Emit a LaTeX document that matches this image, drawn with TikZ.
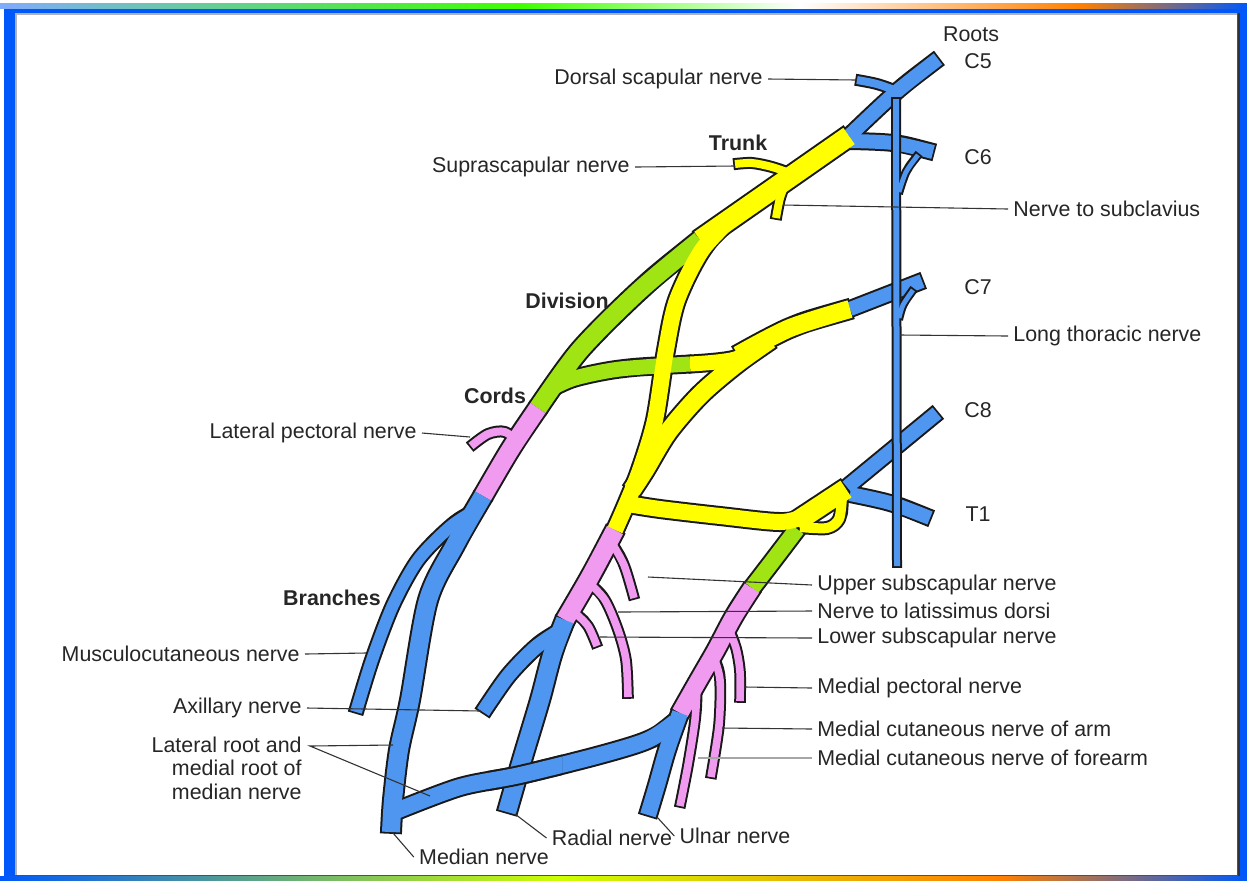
\documentclass[tikz,border=0pt]{standalone}
\usepackage{fontspec}
\setmainfont{Liberation Sans}

\definecolor{nerveblue}{RGB}{79,150,240}
\definecolor{trunkyellow}{RGB}{255,255,0}
\definecolor{divgreen}{RGB}{160,228,20}
\definecolor{cordpink}{RGB}{240,155,240}
\definecolor{frameblue}{RGB}{0,88,250}

\tikzset{
  lbl/.style={font=\fontsize{10.7}{11.8}\selectfont, text=black!85, inner sep=2.5pt},
  hd/.style={lbl, font=\fontsize{10.7}{11.8}\selectfont\bfseries},
  lead/.style={draw=black!80, line width=0.55pt},
  outlinepass/.style={line join=round,
    nv/.style={line width=##1+2pt, draw=black!90, shorten <=-0.9pt, shorten >=-0.9pt},
    roots/.style={}, trunks/.style={}, divs/.style={}, cords/.style={}, branches/.style={}},
  fillpass/.style={line join=round,
    nv/.style={line width=##1},
    roots/.style={draw=nerveblue}, trunks/.style={draw=trunkyellow},
    divs/.style={draw=divgreen}, cords/.style={draw=cordpink}, branches/.style={draw=nerveblue}},
}

\newcommand\medialroot{plot[smooth] coordinates {(675,722) (648,740) (600,755) (520,775) (460,787) (396,811)}}

% every tube is drawn twice: dark outline first, colour on top
\newcommand\plexus{%
  % roots
  \draw[nv=7pt,roots] plot[smooth] coordinates {(938,59) (895,93) (849,136)};
  \draw[nv=4pt,roots] plot[smooth] coordinates {(897,91) (877,84) (857,80)};
  \draw[nv=7pt,roots] plot[smooth] coordinates {(933,152) (893,143) (850,141)};
  \draw[nv=7pt,roots] (922,281) -- (850,309);
  \draw[nv=7pt,roots] (937,413) -- (847,487);
  \draw[nv=7pt,roots] plot[smooth] coordinates {(930,518) (890,503) (850,494)};
  % divisions
  \draw[nv=9pt,divs] plot[smooth] coordinates {(700,240) (640,290) (580,350) (538,408)};
  \draw[nv=7.5pt,divs] plot[smooth] coordinates {(690,364) (620,369) (575,378) (552,388)};
  \draw[nv=8pt,divs] plot[smooth] coordinates {(797,529) (775,558) (752,588)};
  % trunks
  \draw[nv=10pt,trunks] (849,136) -- (700,240);
  \draw[nv=4pt,trunks] plot[smooth] coordinates {(795,175) (772,167) (752,163) (735,164)};
  \draw[nv=4pt,trunks] plot[smooth] coordinates {(787,180) (780,198) (776,218)};
  \draw[nv=8pt,trunks] plot[smooth] coordinates {(735,215) (702,250) (677,300) (666,350) (655,420) (640,470) (626,505) (615,530)};
  \draw[nv=9pt,trunks] plot[smooth] coordinates {(850,309) (790,328) (738,355)};
  \draw[nv=7.5pt,trunks] plot[smooth] coordinates {(770,340) (735,359) (690,364)};
  \draw[nv=9pt,trunks] plot[smooth] coordinates {(770,340) (735,365) (700,395) (668,432) (645,470) (632,490)};
  \draw[nv=10pt,trunks] (846,489) -- (796,522);
  \draw[nv=8pt,trunks] plot[smooth] coordinates {(805,516) (780,522) (720,516) (660,509) (628,504)};
  \draw[nv=5pt,trunks] plot[smooth] coordinates {(842,497) (839,519) (827,528) (800,527)};
  % cords
  \draw[nv=9pt,cords] plot[smooth] coordinates {(538,408) (510,450) (483,496)};
  \draw[nv=4pt,cords] plot[smooth] coordinates {(522,445) (505,432) (488,434) (471,446)};
  \draw[nv=9pt,cords] plot[smooth] coordinates {(615,530) (590,577) (565,620)};
  \draw[nv=3.8pt,cords] plot[smooth] coordinates {(610,540) (624,565) (634,598)};
  \draw[nv=3.8pt,cords] plot[smooth] coordinates {(588,582) (605,600) (618,630) (626,660) (628,697)};
  \draw[nv=3.8pt,cords] plot[smooth] coordinates {(574,612) (588,626) (597,646)};
  \draw[nv=8.5pt,cords] plot[smooth] coordinates {(752,588) (733,618) (716,650) (697,683) (680,713)};
  \draw[nv=3.8pt,cords] plot[smooth] coordinates {(727,625) (736,648) (740,672) (740,701)};
  \draw[nv=3.8pt,cords] plot[smooth] coordinates {(713,655) (720,680) (719,725) (711,777)};
  \draw[nv=3.8pt,cords] plot[smooth] coordinates {(697,685) (695,720) (688,765) (680,806)};
  % terminal branches
  \draw[nv=9pt,branches] plot[smooth] coordinates {(483,496) (455,545) (428,600) (410,700) (399,750) (393,800) (391,832)};
  \draw[nv=6pt,branches] plot[smooth] coordinates {(476,510) (450,527) (418,560) (393,605) (372,660) (356,712)};
  \draw[nv=9pt,branches] plot[smooth] coordinates {(565,620) (552,655) (540,700) (522,760) (507,812)};
  \draw[nv=7pt,branches] plot[smooth] coordinates {(558,632) (535,648) (508,676) (483,712)};
  \draw[nv=8pt,branches] plot[smooth] coordinates {(680,713) (667,750) (657,785) (648,815)};
  \draw[nv=8pt,branches] \medialroot;
}

\newcommand\thoracic{%
  \draw[nv=3pt,roots] (896,99) -- (897,566);
  \draw[nv=2.4pt,roots] plot[smooth] coordinates {(918,155) (906,172) (899,192)};
  \draw[nv=2.4pt,roots] plot[smooth] coordinates {(913,290) (903,305) (899,318)};
}

\begin{document}
\begin{tikzpicture}[x=0.5pt,y=-0.5pt]
  \useasboundingbox (0,0) rectangle (1247,880);

  % window frame
  \fill[white] (0,0) rectangle (1247,880);
  \fill[frameblue] (4,4) rectangle (1247,880);
  \shade[left color=frameblue!50, right color=green!75!yellow] (0,3) rectangle (520,8);
  \shade[left color=green!75!yellow, right color=white] (520,3) rectangle (800,8);
  \shade[left color=white, right color=orange] (800,3) rectangle (1080,8);
  \shade[left color=orange, right color=frameblue] (1080,3) rectangle (1247,8);
  \shade[left color=frameblue, right color=yellow!80!green] (0,876) rectangle (560,880);
  \shade[left color=yellow!80!green, right color=orange] (560,876) rectangle (1000,880);
  \shade[left color=orange, right color=frameblue] (1000,876) rectangle (1247,880);
  \fill[white] (15,13) rectangle (1237,875);
  \draw[black!30, line width=1pt] (16,875) -- (16,14) -- (1237,14);
  \draw[black!80, line width=1.2pt] (1239,13) -- (1239,876);

  % the plexus
  \begin{scope}[outlinepass] \plexus \end{scope}
  \begin{scope}[fillpass] \plexus \end{scope}
  % medial root passes over the radial nerve
  \begin{scope}
    \clip (488,740) rectangle (562,808);
    \draw[line width=10pt, black!90] \medialroot;
    \draw[line width=8pt, nerveblue] \medialroot;
  \end{scope}
  \begin{scope}[outlinepass] \thoracic \end{scope}
  \begin{scope}[fillpass] \thoracic \end{scope}

  % ends of the leader lines
  \coordinate (dsend) at (857,80);
  \coordinate (ssend) at (735,166);
  \coordinate (sclend) at (783,205);
  \coordinate (ltend) at (900,335);
  \coordinate (lpend) at (470,437);
  \coordinate (mcend) at (366,653);
  \coordinate (axend) at (481,711);
  \coordinate (latroot) at (393,745);
  \coordinate (fork) at (310,746);
  \coordinate (medroot) at (430,796);
  \coordinate (medianend) at (393,833);
  \coordinate (radialend) at (515,814);
  \coordinate (ulnarend) at (657,817);
  \coordinate (usubend) at (648,577);
  \coordinate (tdend) at (618,612);
  \coordinate (lsubend) at (600,637);
  \coordinate (mpend) at (745,687);
  \coordinate (armend) at (722,728);
  \coordinate (foreend) at (698,758);

  % level names
  \node[lbl] (roots) at (971,34) {Roots};
  \node[lbl] (c5) at (978,61) {C5};
  \node[lbl] (c6) at (978,157) {C6};
  \node[lbl] (c7) at (978,287) {C7};
  \node[lbl] (c8) at (978,410) {C8};
  \node[lbl] (t1) at (978,514) {T1};
  \node[hd] (trunk) at (738,143) {Trunk};
  \node[hd] (division) at (567,301) {Division};
  \node[hd] (cords) at (495,396) {Cords};
  \node[hd] (branches) at (332,598) {Branches};

  % nerve names
  \node[lbl, anchor=east] (ds) at (768,79) {Dorsal scapular nerve};
  \node[lbl, anchor=east] (ss) at (635,167) {Suprascapular nerve};
  \node[lbl, anchor=west] (scl) at (1008,209) {Nerve to subclavius};
  \node[lbl, anchor=west] (lt) at (1008,336) {Long thoracic nerve};
  \node[lbl, anchor=east] (lp) at (422,433) {Lateral pectoral nerve};
  \node[lbl, anchor=east] (mc) at (305,654) {Musculocutaneous nerve};
  \node[lbl, anchor=east] (ax) at (307,708) {Axillary nerve};
  \node[lbl, anchor=east, align=right] (mroots) at (307,768) {Lateral root and\\medial root of\\median nerve};
  \node[lbl] (median) at (484,857) {Median nerve};
  \node[lbl] (radial) at (612,838) {Radial nerve};
  \node[lbl] (ulnar) at (735,836) {Ulnar nerve};
  \node[lbl, anchor=west] (usub) at (812,585) {Upper subscapular nerve};
  \node[lbl, anchor=west] (td) at (812,611) {Nerve to latissimus dorsi};
  \node[lbl, anchor=west] (lsub) at (812,638) {Lower subscapular nerve};
  \node[lbl, anchor=west] (mp) at (812,688) {Medial pectoral nerve};
  \node[lbl, anchor=west] (arm) at (812,729) {Medial cutaneous nerve of arm};
  \node[lbl, anchor=west] (fore) at (812,758) {Medial cutaneous nerve of forearm};

  % leader lines
  \draw[lead] (ds.east) -- (dsend);
  \draw[lead] (ss.east) -- (ssend);
  \draw[lead] (scl.west) -- (sclend);
  \draw[lead] (lt.west) -- (ltend);
  \draw[lead] (lp.east) -- (lpend);
  \draw[lead] (mc.east) -- (mcend);
  \draw[lead] (ax.east) -- (axend);
  \draw[lead] (latroot) -- (fork) -- (medroot);
  \draw[lead] (medianend) -- (median.west);
  \draw[lead] (radialend) -- (radial.west);
  \draw[lead] (ulnarend) -- (ulnar.west);
  \draw[lead] (usubend) -- (usub.west);
  \draw[lead] (tdend) -- (td.west);
  \draw[lead] (lsubend) -- (lsub.west);
  \draw[lead] (mpend) -- (mp.west);
  \draw[lead] (armend) -- (arm.west);
  \draw[lead, draw=black!35] (foreend) -- (fore.west);
\end{tikzpicture}
\end{document}
